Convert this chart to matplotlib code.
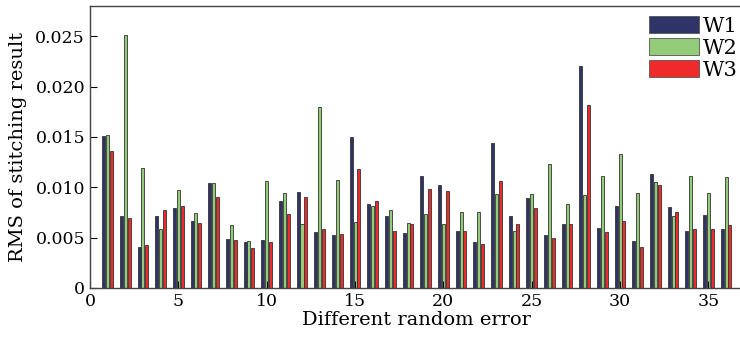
import numpy as np
import matplotlib
matplotlib.use("Agg")
import matplotlib.pyplot as plt

groups = list(range(1, 37))
w1 = [0.0151, 0.0071, 0.0041, 0.0071, 0.0079, 0.0067, 0.0104, 0.0049, 0.0046, 0.0048,
      0.0086, 0.0095, 0.0056, 0.0053, 0.0150, 0.0083, 0.0071, 0.0055, 0.0111, 0.0102,
      0.0057, 0.0046, 0.0144, 0.0071, 0.0089, 0.0053, 0.0064, 0.0220, 0.0060, 0.0081,
      0.0047, 0.0113, 0.0080, 0.0057, 0.0072, 0.0059]
w2 = [0.0152, 0.0251, 0.0119, 0.0059, 0.0097, 0.0074, 0.0104, 0.0063, 0.0047, 0.0106,
      0.0094, 0.0064, 0.0180, 0.0107, 0.0066, 0.0081, 0.0077, 0.0065, 0.0073, 0.0064,
      0.0075, 0.0075, 0.0093, 0.0057, 0.0093, 0.0123, 0.0083, 0.0092, 0.0111, 0.0133,
      0.0094, 0.0105, 0.0071, 0.0111, 0.0094, 0.0110]
w3 = [0.0136, 0.0070, 0.0043, 0.0077, 0.0081, 0.0065, 0.0090, 0.0048, 0.0040, 0.0046,
      0.0073, 0.0090, 0.0059, 0.0054, 0.0118, 0.0086, 0.0057, 0.0064, 0.0098, 0.0096,
      0.0057, 0.0044, 0.0106, 0.0064, 0.0079, 0.0050, 0.0064, 0.0182, 0.0056, 0.0067,
      0.0041, 0.0102, 0.0075, 0.0059, 0.0059, 0.0063]
series_names = ["W1", "W2", "W3"]
colors = ["#2E3468", "#92CC78", "#EE2A2A"]

plt.rcParams['font.family'] = ['DejaVu Serif']

fig = plt.figure(figsize=(7.4, 3.38), dpi=100)
ax = fig.add_axes([0.1216, 0.148, 0.8834, 0.834])

x = np.array(groups, dtype=float)
width = 0.17
offsets = [-0.222, 0.0, 0.222]
for vals, off, c, name in zip([w1, w2, w3], offsets, colors, series_names):
    ax.bar(x + off, vals, width=width, color=c, edgecolor="#333333",
           linewidth=0.6, label=name)

ax.set_xlim(0, 37)
ax.set_ylim(0, 0.028)
ax.set_xticks([0, 5, 10, 15, 20, 25, 30, 35])
ax.set_yticks([0, 0.005, 0.010, 0.015, 0.020, 0.025])
ax.set_yticklabels(["0", "0.005", "0.010", "0.015", "0.020", "0.025"])
ax.tick_params(direction="in", length=5, width=0.8, labelsize=12.5, top=False, right=False)
for s in ax.spines.values():
    s.set_color("#444444")
    s.set_linewidth(1.0)

ax.set_xlabel("Different random error", fontsize=14, labelpad=1)
ax.set_ylabel("RMS of stitching result", fontsize=14, labelpad=6)

leg = ax.legend(loc="upper right", bbox_to_anchor=(738 / 740, 1 - 16 / 338),
                bbox_transform=fig.transFigure, frameon=False, fontsize=15,
                handlelength=2.4, handleheight=0.85, labelspacing=0.12,
                handletextpad=0.2, borderpad=0, borderaxespad=0)
for p in leg.get_patches():
    p.set_edgecolor("#555555")

fig.savefig("out.png", dpi=100)
